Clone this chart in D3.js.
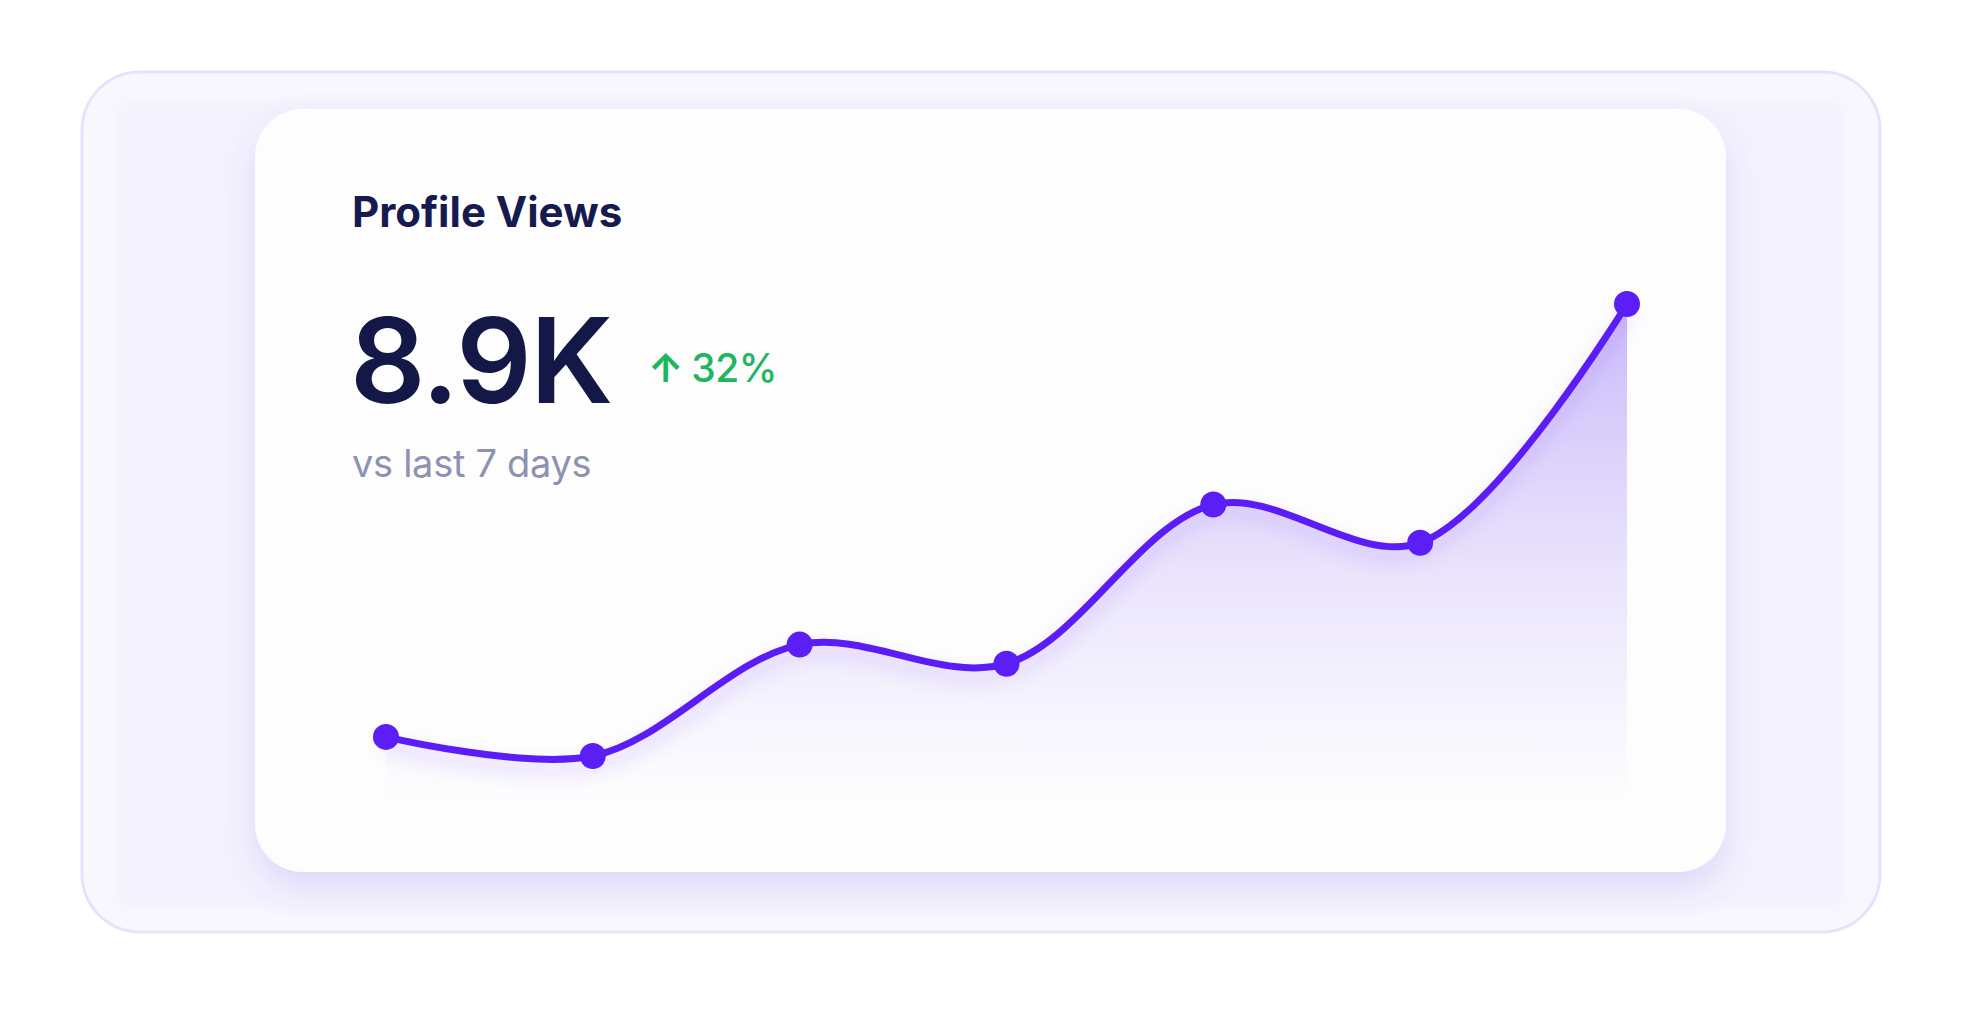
<!DOCTYPE html>
<html>
<head>
<meta charset="utf-8">
<script src="https://cdn.jsdelivr.net/npm/d3@7"></script>
<style>
  html, body { margin: 0; padding: 0; background: #ffffff; }
  svg { display: block; font-family: Inter, "Noto Sans", sans-serif; }
</style>
</head>
<body>
<svg id="chart" width="1968" height="1010"></svg>
<script>
// daily profile views for the last 7 days (sum = 8.9K)
const days = ["Mon", "Tue", "Wed", "Thu", "Fri", "Sat", "Sun"];
const views = [820, 760, 1110, 1050, 1550, 1430, 2180];
const headline = "8.9K";
const change = "32%";

const W = 1968, H = 1010;
const svg = d3.select("#chart").attr("viewBox", `0 0 ${W} ${H}`);
const defs = svg.append("defs");

// ----- filters + gradients -----
const cardShadow = defs.append("filter").attr("id", "cardShadow")
  .attr("x", "-10%").attr("y", "-10%").attr("width", "120%").attr("height", "130%");
cardShadow.append("feDropShadow").attr("dx", 0).attr("dy", 16).attr("stdDeviation", 16)
  .attr("flood-color", "#6c5ce7").attr("flood-opacity", 0.16);

const soft = defs.append("filter").attr("id", "soft")
  .attr("x", "-5%").attr("y", "-5%").attr("width", "110%").attr("height", "110%");
soft.append("feGaussianBlur").attr("stdDeviation", 6);

const lineShadow = defs.append("filter").attr("id", "lineShadow")
  .attr("x", "-5%").attr("y", "-20%").attr("width", "110%").attr("height", "150%");
lineShadow.append("feDropShadow").attr("dx", 0).attr("dy", 10).attr("stdDeviation", 9)
  .attr("flood-color", "#5b1ff5").attr("flood-opacity", 0.18);

// ----- frame + card -----
svg.append("rect").attr("x", 82).attr("y", 72).attr("width", 1798).attr("height", 860)
  .attr("rx", 58).attr("fill", "#f8f7fe").attr("stroke", "#e6e2fc").attr("stroke-width", 3);
svg.append("rect").attr("x", 120).attr("y", 102).attr("width", 1722).attr("height", 806)
  .attr("fill", "#f2f0fd").attr("opacity", 0.7).attr("filter", "url(#soft)");

const card = { x: 255, y: 109, w: 1471, h: 763 };
svg.append("rect").attr("x", card.x).attr("y", card.y).attr("width", card.w).attr("height", card.h)
  .attr("rx", 48).attr("fill", "#fdfdfe").attr("filter", "url(#cardShadow)");

// ----- texts -----
svg.append("text").attr("x", 352).attr("y", 227)
  .attr("font-size", 42).attr("font-weight", 700).attr("fill", "#161a4f")
  .text("Profile Views");
svg.append("text").attr("x", 350).attr("y", 403)
  .attr("font-size", 118).attr("font-weight", 600).attr("fill", "#141847")
  .attr("letter-spacing", -1.5).text(headline);
const chg = svg.append("text").attr("x", 648).attr("y", 382)
  .attr("font-size", 39).attr("fill", "#1fb660");
chg.append("tspan").attr("font-weight", 700).text("↑");
chg.append("tspan").attr("dx", 8).attr("font-weight", 500).attr("letter-spacing", -0.5).text(change);
svg.append("text").attr("x", 352).attr("y", 477)
  .attr("font-size", 38).attr("font-weight", 400).attr("fill", "#8e91b1")
  .attr("letter-spacing", -0.3).text("vs last 7 days");

// ----- chart -----
const x = d3.scalePoint().domain(days).range([386, 1627]);
const y = d3.scaleLinear().domain(d3.extent(views)).range([756, 304]);
const pts = days.map((d, i) => ({ day: d, v: views[i] }));
const curve = d3.curveCatmullRom.alpha(0.5);

const grad = defs.append("linearGradient").attr("id", "areaGrad")
  .attr("gradientUnits", "userSpaceOnUse").attr("x1", 0).attr("x2", 0)
  .attr("y1", y(d3.max(views))).attr("y2", 805);
grad.append("stop").attr("offset", "0%").attr("stop-color", "#7b52f2").attr("stop-opacity", 0.4);
grad.append("stop").attr("offset", "55%").attr("stop-color", "#8f6cf4").attr("stop-opacity", 0.17);
grad.append("stop").attr("offset", "100%").attr("stop-color", "#a48af6").attr("stop-opacity", 0);

const area = d3.area().x((d) => x(d.day)).y0(805).y1((d) => y(d.v)).curve(curve);
const line = d3.line().x((d) => x(d.day)).y((d) => y(d.v)).curve(curve);

svg.append("path").datum(pts).attr("d", area).attr("fill", "url(#areaGrad)");
svg.append("path").datum(pts).attr("d", line)
  .attr("fill", "none").attr("stroke", "#5b1ff5").attr("stroke-width", 7)
  .attr("stroke-linecap", "round").attr("filter", "url(#lineShadow)");
svg.append("g").selectAll("circle").data(pts).join("circle")
  .attr("cx", (d) => x(d.day)).attr("cy", (d) => y(d.v)).attr("r", 13)
  .attr("fill", "#5b1ff5");
</script>
</body>
</html>
